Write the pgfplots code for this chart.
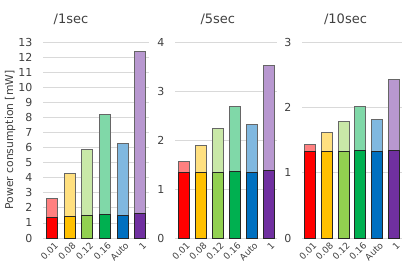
\documentclass[border=0pt]{standalone}
\usepackage{pgfplots}
\pgfplotsset{compat=1.18}
\usepackage{fontspec}
\setmainfont{DejaVu Sans}
\definecolor{cA}{HTML}{FF0000}\definecolor{lA}{HTML}{FF8080}
\definecolor{cB}{HTML}{FFC000}\definecolor{lB}{HTML}{FFE080}
\definecolor{cC}{HTML}{92D050}\definecolor{lC}{HTML}{C9E8A8}
\definecolor{cD}{HTML}{00B050}\definecolor{lD}{HTML}{80D8A8}
\definecolor{cE}{HTML}{0070C0}\definecolor{lE}{HTML}{80B8E0}
\definecolor{cF}{HTML}{7030A0}\definecolor{lF}{HTML}{B898D0}
\definecolor{txt}{HTML}{404040}
\newcommand{\catbar}[4]{%
  \addplot[ybar, bar width=11pt, bar shift=0pt, fill=l#4, draw=black!60, line width=0.7pt] coordinates {(#1,#2)};
  \addplot[ybar, bar width=11pt, bar shift=0pt, fill=c#4, draw=black!85, line width=0.7pt] coordinates {(#1,#3)};
}
\newcommand{\paneltitle}[2]{%
  \node[anchor=center, text=txt, font=\fontsize{13pt}{15pt}\selectfont, inner sep=0pt] at (rel axis cs:#1,1) [yshift=23pt] {#2};
}
\pgfplotsset{
  panel/.style={
    scale only axis,
    height=196pt,
    ymin=0,
    xmin=-0.5, xmax=5.5,
    xtick={0,1,2,3,4,5},
    xticklabels={0.01,0.08,0.12,0.16,Auto,1},
    axis line style={draw=none},
    major tick length=0pt,
    ymajorgrids,
    major grid style={color=black!15, line width=0.8pt},
    /pgf/number format/assume math mode=true,
    yticklabel style={font=\fontsize{11pt}{13pt}\selectfont, text=txt, xshift=-7pt},
    xticklabel style={font=\fontsize{9pt}{11pt}\selectfont, text=txt, rotate=45, anchor=north east, inner sep=1pt, yshift=-3pt},
    clip=false,
    anchor=south west,
  }
}
\begin{document}
\begin{tikzpicture}
\useasboundingbox (0,0) rectangle (403pt,273pt);
\begin{axis}[panel, at={(43pt,35pt)}, width=106pt, ymax=13, ytick={0,1,...,13},
  ylabel={Power consumption [mW]},
  every axis y label/.style={at={(axis description cs:-0.311,0.5)}, rotate=90, anchor=center, font=\fontsize{10.8pt}{13pt}\selectfont, text=txt}]
\catbar{0}{2.63}{1.37}{A}
\catbar{1}{4.26}{1.46}{B}
\catbar{2}{5.90}{1.50}{C}
\catbar{3}{8.19}{1.57}{D}
\catbar{4}{6.27}{1.48}{E}
\catbar{5}{12.40}{1.63}{F}
\paneltitle{0.264}{/1sec}
\end{axis}
\begin{axis}[panel, at={(175pt,35pt)}, width=102pt, ymax=4, ytick={0,1,2,3,4}]
\catbar{0}{1.56}{1.33}{A}
\catbar{1}{1.90}{1.34}{B}
\catbar{2}{2.24}{1.35}{C}
\catbar{3}{2.69}{1.36}{D}
\catbar{4}{2.31}{1.35}{E}
\catbar{5}{3.53}{1.39}{F}
\paneltitle{0.42}{/5sec}
\end{axis}
\begin{axis}[panel, at={(302pt,35pt)}, width=100pt, ymax=3, ytick={0,1,2,3}]
\catbar{0}{1.44}{1.33}{A}
\catbar{1}{1.61}{1.33}{B}
\catbar{2}{1.78}{1.33}{C}
\catbar{3}{2.01}{1.34}{D}
\catbar{4}{1.82}{1.33}{E}
\catbar{5}{2.43}{1.34}{F}
\paneltitle{0.435}{/10sec}
\end{axis}
\end{tikzpicture}
\end{document}
